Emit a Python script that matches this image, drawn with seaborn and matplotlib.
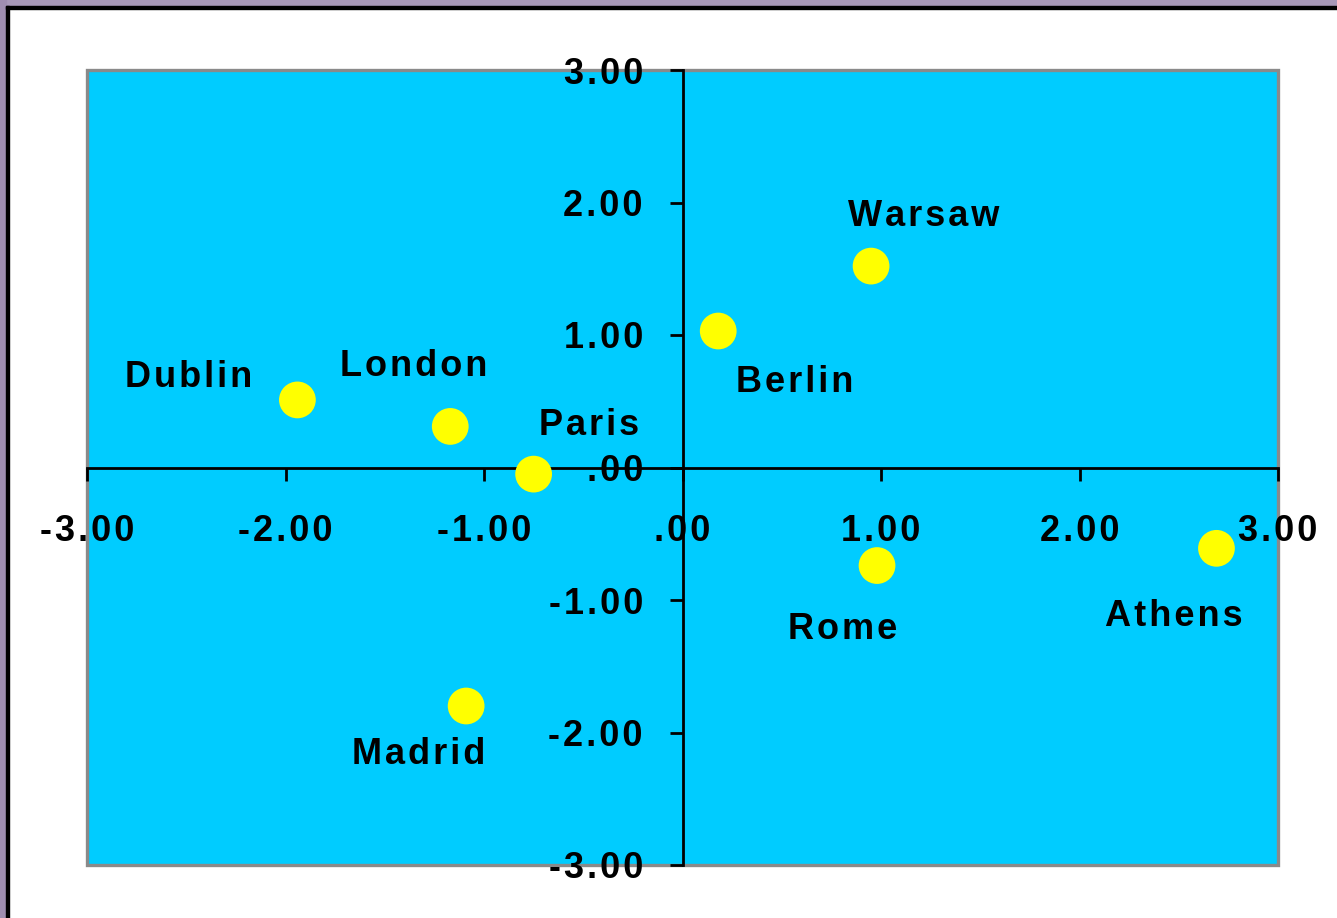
import numpy as np
import pandas as pd
import matplotlib
matplotlib.use("Agg")
import matplotlib.pyplot as plt
import matplotlib.ticker as mticker
from matplotlib.patches import Rectangle
import seaborn as sns

# city positions on the two dimensions
cities = ["Dublin", "London", "Paris", "Berlin", "Warsaw", "Rome", "Athens", "Madrid"]
dim1 = [-1.94, -1.17, -0.75, 0.18, 0.95, 0.98, 2.69, -1.09]
dim2 = [0.51, 0.31, -0.05, 1.03, 1.52, -0.74, -0.61, -1.80]
ticks = [-3, -2, -1, 0, 1, 2, 3]

# label offsets from the points (in points)
label_offsets = {
    "Dublin": (-78, 16), "London": (-26, 43), "Paris": (40, 35), "Berlin": (55, -37),
    "Warsaw": (38, 36), "Rome": (-25, -46), "Athens": (-31, -49), "Madrid": (-34, -35),
}

df = pd.DataFrame({"city": cities, "dim1": dim1, "dim2": dim2})

FONT = ["Liberation Sans Narrow", "Liberation Sans", "DejaVu Sans"]
plt.rcParams["font.family"] = FONT


def spaced(s):
    return "\u200a".join(s)


fig = plt.figure(figsize=(13.37, 9.18), dpi=100)
fig.patch.set_facecolor("white")

# outer frame bits (top and left edges of the screenshot)
W, H = 1337, 918
fig.patches.append(Rectangle((0, 1 - 6 / H), 1, 6 / H, transform=fig.transFigure, color="#a898b8", zorder=0))
fig.patches.append(Rectangle((0, 0), 6 / W, 1, transform=fig.transFigure, color="#9f8eb0", zorder=0))
fig.patches.append(Rectangle((6 / W, 1 - 9 / H), 1, 3 / H, transform=fig.transFigure, color="black", zorder=1))
fig.patches.append(Rectangle((6 / W, 0), 3 / W, 1 - 6 / H, transform=fig.transFigure, color="black", zorder=1))

ax = fig.add_axes([87 / W, 53 / H, (1278 - 87) / W, (865 - 70) / H])
ax.set_facecolor("#00ccff")
ax.add_patch(Rectangle((0, 0), 1, 1, transform=ax.transAxes, fill=False,
                       edgecolor="#8a8a8a", linewidth=2.4, zorder=0.5, clip_on=False))

sns.scatterplot(data=df, x="dim1", y="dim2", ax=ax, s=700, color="#ffff00",
                edgecolor="none", zorder=5, legend=False)

ax.set_xlim(-3, 3)
ax.set_ylim(-3, 3)
ax.set_xticks(ticks)
ax.set_yticks(ticks)


def fmt(v, pos):
    s = f"{v:.2f}"
    if s.startswith("0"):
        s = s[1:]
    elif s.startswith("-0"):
        s = s[2:]
    return spaced(s)


ax.xaxis.set_major_formatter(mticker.FuncFormatter(fmt))
ax.yaxis.set_major_formatter(mticker.FuncFormatter(fmt))

for side in ["top", "right"]:
    ax.spines[side].set_visible(False)
for side in ["left", "bottom"]:
    ax.spines[side].set_position(("data", 0))
    ax.spines[side].set_color("black")
    ax.spines[side].set_linewidth(2.0)
    ax.spines[side].set_zorder(3)

ax.tick_params(axis="both", direction="out", length=9.5, width=2.0, color="black",
               labelsize=26)
ax.tick_params(axis="x", pad=24)
ax.tick_params(axis="y", pad=19)
for lab in ax.get_xticklabels() + ax.get_yticklabels():
    lab.set_fontweight("bold")
    lab.set_zorder(6)

ax.set_xlabel("")
ax.set_ylabel("")

for name, x, y in zip(cities, dim1, dim2):
    dx, dy = label_offsets[name]
    ax.annotate(spaced(name), (x, y), xytext=(dx, dy), textcoords="offset points",
                ha="center", va="center", fontsize=26, fontweight="bold", zorder=6)

fig.savefig("out.png", dpi=100, facecolor="white")
